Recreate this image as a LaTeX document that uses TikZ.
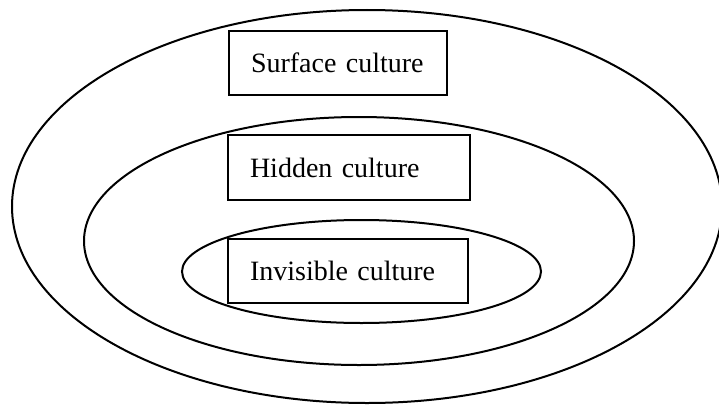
\documentclass[tikz,border=0pt]{standalone}
\usepackage{fontspec}
\setmainfont{Liberation Serif}
\begin{document}
\begin{tikzpicture}[x=1pt,y=-1pt,
  ring/.style={line width=2pt},
  cbox/.style={draw, line width=1.7pt, inner xsep=22pt, inner ysep=0pt, align=left,
    minimum height=64pt, font=\fontsize{28}{30}\selectfont}]
\useasboundingbox (0,0) rectangle (719,404);
\draw[ring] (367,206.5) ellipse [x radius=355, y radius=196.5];
\draw[ring] (359,241) ellipse [x radius=275, y radius=124];
\draw[ring] (361.5,271.5) ellipse [x radius=179.5, y radius=51.5];
\node[cbox, text width=174pt] (surface) at (338,63) {Surface culture};
\node[cbox, text width=198pt, minimum height=65pt] (hidden) at (349,167.5) {Hidden culture};
\node[cbox, text width=196pt] (invisible) at (348,271) {Invisible culture};
\end{tikzpicture}
\end{document}
